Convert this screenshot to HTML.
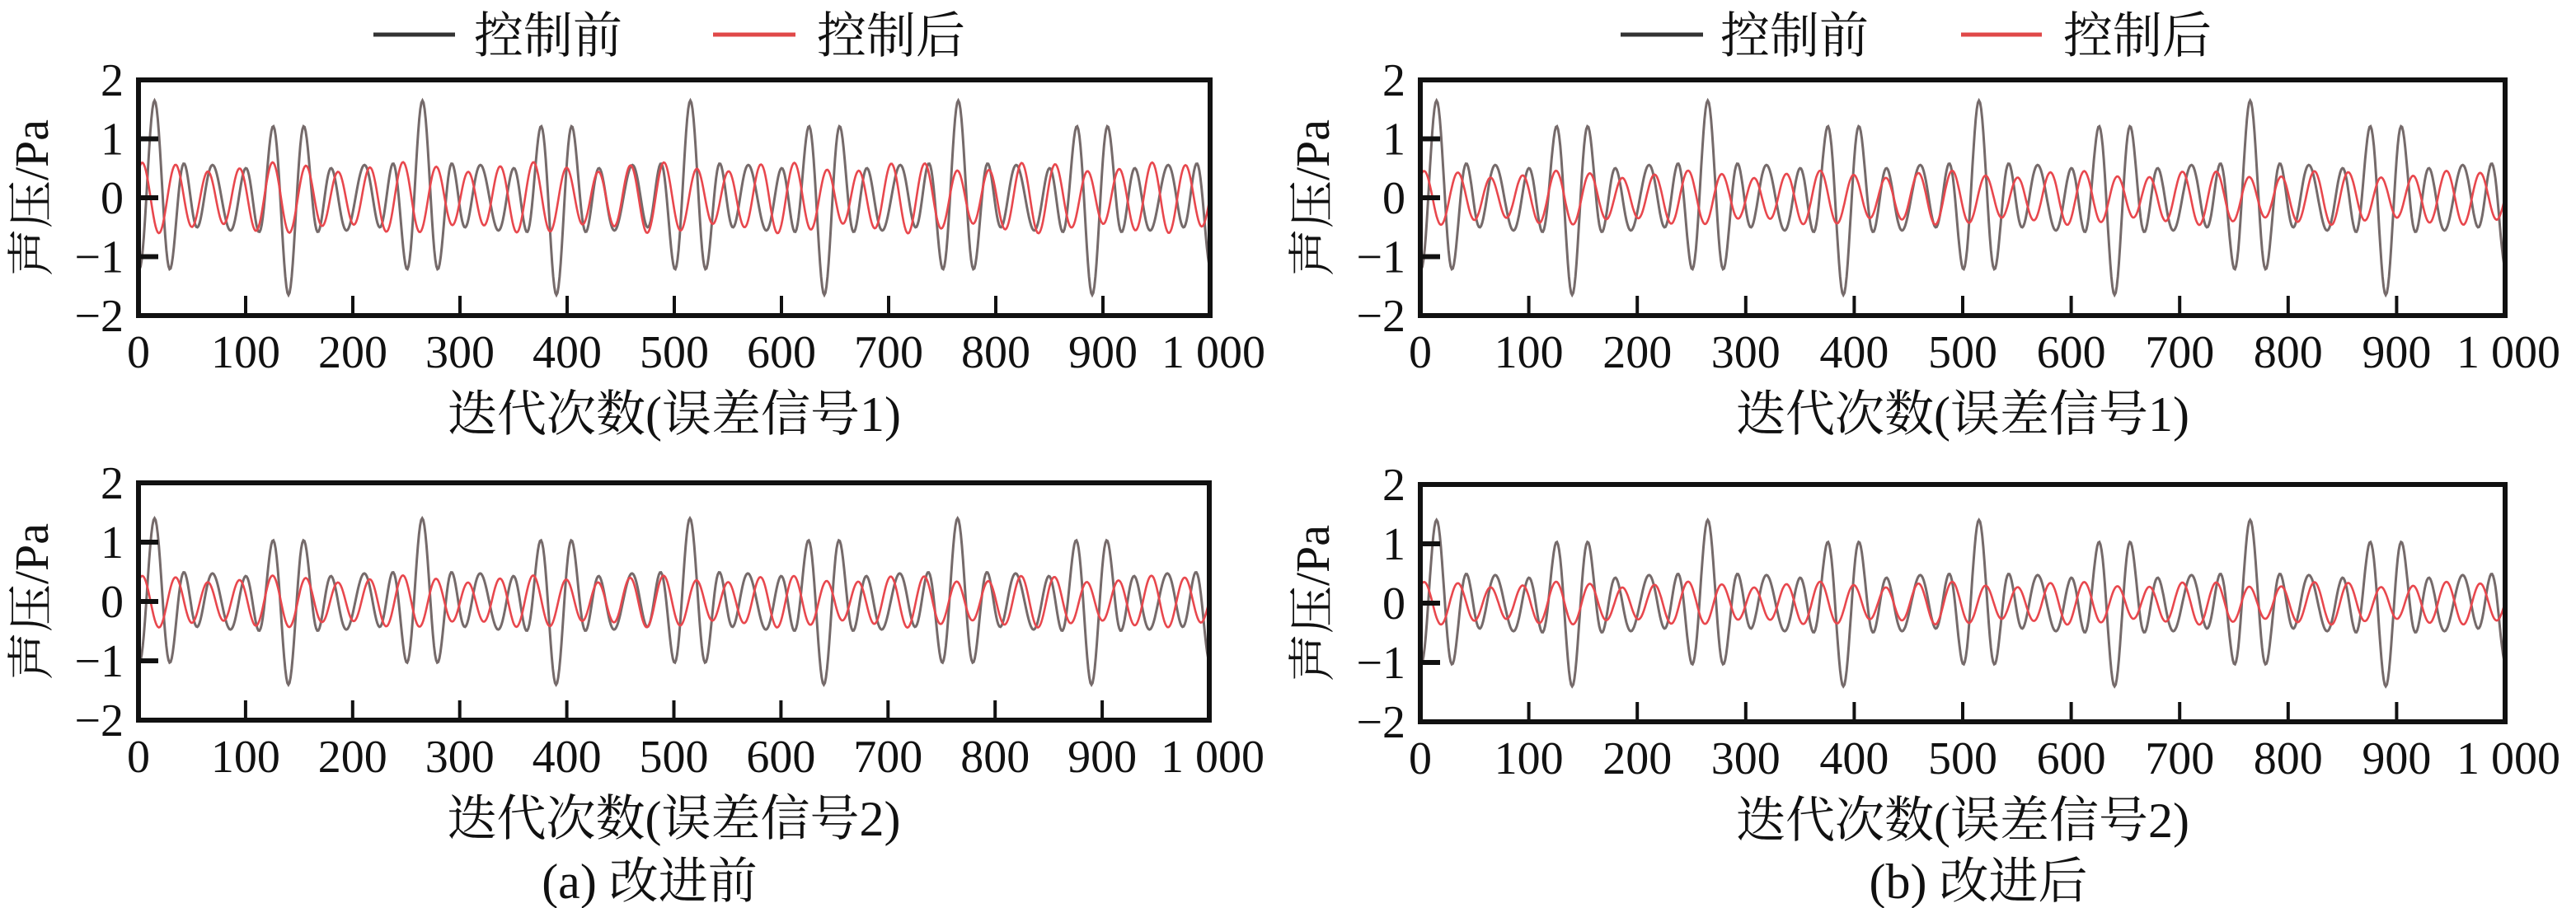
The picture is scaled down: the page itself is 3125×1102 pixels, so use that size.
<!DOCTYPE html>
<html><head><meta charset="utf-8">
<style>
html,body{margin:0;padding:0;background:#fff;}
svg{display:block;}
text{font-family:"Liberation Serif","Noto Serif CJK SC",serif;fill:#111;}
</style></head>
<body>
<svg id="s" width="3125" height="1102" viewBox="0 0 3125 1102" xmlns="http://www.w3.org/2000/svg">
<line x1="453" y1="42" x2="552" y2="42" stroke="#333" stroke-width="5"/>
<text x="575" y="64" font-size="60">控制前</text>
<line x1="865" y1="42" x2="965" y2="42" stroke="#e04848" stroke-width="5"/>
<text x="991" y="64" font-size="60">控制后</text>
<line x1="1966" y1="42" x2="2066" y2="42" stroke="#333" stroke-width="5"/>
<text x="2087" y="64" font-size="60">控制前</text>
<line x1="2379" y1="42" x2="2477" y2="42" stroke="#e04848" stroke-width="5"/>
<text x="2503" y="64" font-size="60">控制后</text>
<g id="plots"></g>
<text x="788" y="1090" font-size="60" text-anchor="middle">(a) 改进前</text>
<text x="2400" y="1090" font-size="60" text-anchor="middle">(b) 改进后</text>
</svg>
<script>
var g=document.getElementById('plots');var NS="http://www.w3.org/2000/svg";
function el(t,a,txt){var e=document.createElementNS(NS,t);for(var k in a)e.setAttribute(k,a[k]);if(txt!==undefined)e.textContent=txt;g.appendChild(e);return e;}
var panels=[
 {x0:168,x1:1468,y0:97,y1:383,lab:"迭代次数(误差信号1)",ab:1.0,ar:0.55,yl:38},
 {x0:168,x1:1467,y0:586,y1:874,lab:"迭代次数(误差信号2)",ab:0.85,ar:0.4,yl:38},
 {x0:1723,x1:3039,y0:97,y1:383,lab:"迭代次数(误差信号1)",ab:1.0,ar:0.42,yl:1592},
 {x0:1723,x1:3039,y0:588,y1:876,lab:"迭代次数(误差信号2)",ab:0.85,ar:0.33,yl:1592}
];
var T=2*Math.PI/250;
panels.forEach(function(p){
 var w=p.x1-p.x0,h=p.y1-p.y0,cy=(p.y0+p.y1)/2,sy=h/4;
 function X(n){return p.x0+n/1000*w;} function Y(v){return cy-v*sy;}
 var db="",dr="";
 for(var n=0;n<=1000;n+=1){
  var m=n-15;
  var b=p.ab*(0.8*Math.cos(T*9*m)+0.25*Math.cos(T*7*m)+0.25*Math.cos(T*11*m)+0.3*Math.cos(T*5*m)+0.05*Math.cos(T*3*m));
  var r=p.ar*(0.95*Math.sin(2*Math.PI*n/30.4+0.8)+0.15*Math.sin(2*Math.PI*n/41+1.5));
  db+=(n?"L":"M")+X(n).toFixed(1)+" "+Y(b).toFixed(1);
  dr+=(n?"L":"M")+X(n).toFixed(1)+" "+Y(r).toFixed(1);
 }
 el("path",{d:db,fill:"none",stroke:"#756a6a","stroke-width":3});
 el("path",{d:dr,fill:"none",stroke:"#e8474d","stroke-width":2.6});
 el("rect",{x:p.x0,y:p.y0,width:w,height:h,fill:"none",stroke:"#111","stroke-width":6});
 for(var i=1;i<=9;i++){var tx=X(i*100);el("line",{x1:tx,x2:tx,y1:p.y1,y2:p.y1-24,stroke:"#111","stroke-width":4});}
 [1,0,-1].forEach(function(v){el("line",{x1:p.x0,x2:p.x0+24,y1:Y(v),y2:Y(v),stroke:"#111","stroke-width":6});});
 for(var i=0;i<=9;i++){el("text",{x:X(i*100),y:p.y1+63,"font-size":56,"text-anchor":"middle"},String(i*100));}
 el("text",{x:X(1000)+4,y:p.y1+63,"font-size":56,"text-anchor":"middle"},"1 000");
 [2,1,0,-1,-2].forEach(function(v){el("text",{x:p.x0-18,y:Y(v)+19,"font-size":56,"text-anchor":"end"},(v<0?"\u2212":"")+Math.abs(v));});
 el("text",{x:(p.x0+p.x1)/2,y:p.y1+140,"font-size":60,"text-anchor":"middle"},p.lab);
 el("text",{x:0,y:0,"font-size":58,"text-anchor":"middle",transform:"translate("+(p.yl+20)+","+cy+") rotate(-90)"},"声压/Pa");
});
</script>
</body></html>
